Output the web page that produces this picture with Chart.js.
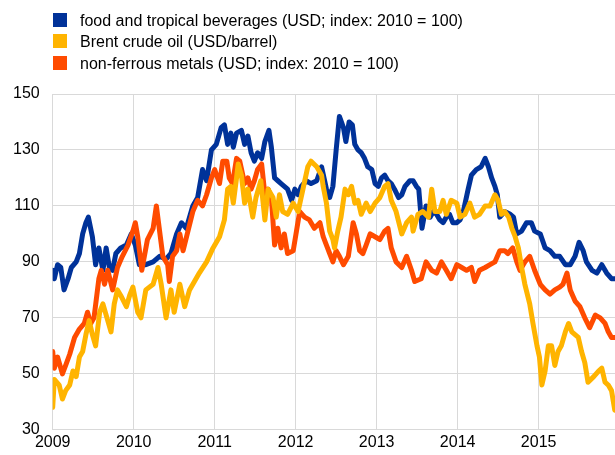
<!DOCTYPE html>
<html>
<head>
<meta charset="utf-8">
<script src="https://cdn.jsdelivr.net/npm/chart.js@4/dist/chart.umd.min.js"></script>
<style>
	html, body { margin: 0; padding: 0; background: #fff; }
	#wrap { position: relative; width: 615px; height: 455px; }
	#chart { position: absolute; left: 0; top: 0; }
	#legend { position: absolute; left: 0; top: 0; font-family: "Liberation Sans", Arial, sans-serif; font-size: 16px; color: #000; }
	.item { position: absolute; left: 53px; height: 14px; white-space: nowrap; }
	.box { position: absolute; left: 0; top: 0; width: 14px; height: 14px; }
	.txt { position: absolute; left: 27px; top: 1px; line-height: 14px; }
</style>
</head>
<body>
<div id="wrap">
	<canvas id="chart" width="615" height="455"></canvas>
	<div id="legend"></div>
</div>
<script>
const yearTicks = [2009, 2010, 2011, 2012, 2013, 2014, 2015];

// food and tropical beverages, index
const foodYears = [
	2009.00, 2009.02, 2009.06, 2009.10, 2009.14, 2009.19, 2009.23, 2009.29, 2009.33, 2009.37, 2009.41, 2009.44, 2009.49, 2009.53, 2009.57, 2009.62, 2009.66, 2009.70, 2009.74, 2009.78, 2009.84, 2009.91, 2009.97,
	2010.02, 2010.07, 2010.15, 2010.24, 2010.32, 2010.40, 2010.46, 2010.53, 2010.59, 2010.65, 2010.73, 2010.79, 2010.85, 2010.90, 2010.96,
	2011.02, 2011.08, 2011.12, 2011.16, 2011.20, 2011.23, 2011.27, 2011.33, 2011.37, 2011.41, 2011.45, 2011.49, 2011.53, 2011.58, 2011.62, 2011.67, 2011.70, 2011.74, 2011.78, 2011.82, 2011.86, 2011.90, 2011.95, 2011.99,
	2012.03, 2012.07, 2012.13, 2012.19, 2012.26, 2012.32, 2012.38, 2012.42, 2012.46, 2012.50, 2012.54, 2012.59, 2012.62, 2012.66, 2012.70, 2012.73, 2012.77, 2012.81, 2012.85, 2012.89, 2012.94, 2012.98,
	2013.02, 2013.06, 2013.10, 2013.14, 2013.18, 2013.22, 2013.27, 2013.31, 2013.35, 2013.41, 2013.45, 2013.49, 2013.52, 2013.56, 2013.61, 2013.66, 2013.70, 2013.74, 2013.78, 2013.82, 2013.86, 2013.90, 2013.94, 2013.99,
	2014.03, 2014.07, 2014.13, 2014.17, 2014.23, 2014.29, 2014.34, 2014.38, 2014.42, 2014.46, 2014.49, 2014.52, 2014.58, 2014.65, 2014.69, 2014.73, 2014.79, 2014.85, 2014.91, 2014.95,
	2015.02, 2015.08, 2015.14, 2015.20, 2015.26, 2015.33, 2015.39, 2015.45, 2015.50, 2015.55, 2015.59, 2015.66, 2015.72, 2015.78, 2015.84, 2015.90, 2015.94,
];
const foodValues = [
	87, 84, 89, 88, 80, 84, 88, 90, 93, 100, 104, 106, 99, 89, 95, 87, 95, 88, 87, 93, 95, 96, 100,
	96, 89, 89, 90, 92, 91, 93, 100, 104, 102, 110, 113, 123, 119, 130,
	132, 138, 139, 132, 136, 131, 136, 137, 132, 135, 129, 126, 129, 127, 133, 137, 131, 120, 119, 118, 117, 116, 112, 116,
	114, 117, 119, 118, 119, 124, 116, 113, 117, 130, 142, 138, 133, 140, 139, 132, 130, 129, 127, 124, 123, 118,
	117, 120, 121, 119, 118, 116, 113, 114, 117, 119, 119, 117, 116, 102, 110, 106, 108, 107, 105, 104, 106, 107, 104, 104,
	105, 108, 116, 121, 123, 124, 127, 124, 120, 117, 114, 106, 108, 107, 106, 100, 101, 104, 104, 101,
	100, 95, 94, 92, 92, 89, 89, 92, 97, 94, 90, 87, 86, 89, 86, 84, 84,
];

// Brent crude oil, USD per barrel
const oilYears = [
	2009.00, 2009.02, 2009.08, 2009.12, 2009.16, 2009.21, 2009.25, 2009.29, 2009.33, 2009.37, 2009.41, 2009.45, 2009.49, 2009.53, 2009.58, 2009.62, 2009.68, 2009.72, 2009.76, 2009.80, 2009.84, 2009.91, 2009.95, 2009.99,
	2010.05, 2010.09, 2010.15, 2010.24, 2010.30, 2010.34, 2010.40, 2010.46, 2010.50, 2010.57, 2010.63, 2010.69, 2010.75, 2010.81, 2010.90, 2010.98,
	2011.06, 2011.12, 2011.16, 2011.20, 2011.23, 2011.27, 2011.29, 2011.33, 2011.37, 2011.41, 2011.47, 2011.51, 2011.57, 2011.62, 2011.66, 2011.72, 2011.76, 2011.80, 2011.84, 2011.90, 2011.97,
	2012.03, 2012.09, 2012.15, 2012.19, 2012.26, 2012.32, 2012.34, 2012.38, 2012.42, 2012.46, 2012.48, 2012.52, 2012.56, 2012.61, 2012.65, 2012.69, 2012.73, 2012.77, 2012.81, 2012.87, 2012.92, 2012.98,
	2013.04, 2013.10, 2013.14, 2013.18, 2013.24, 2013.31, 2013.37, 2013.43, 2013.45, 2013.51, 2013.57, 2013.64, 2013.68, 2013.72, 2013.78, 2013.82, 2013.86, 2013.92, 2013.99,
	2014.03, 2014.09, 2014.15, 2014.21, 2014.27, 2014.34, 2014.40, 2014.46, 2014.50, 2014.54, 2014.58, 2014.63, 2014.67, 2014.71, 2014.75, 2014.79, 2014.83, 2014.89, 2014.93, 2014.98,
	2015.01, 2015.04, 2015.08, 2015.12, 2015.16, 2015.20, 2015.24, 2015.28, 2015.33, 2015.37, 2015.41, 2015.45, 2015.49, 2015.53, 2015.57, 2015.61, 2015.68, 2015.74, 2015.78, 2015.82, 2015.86, 2015.90, 2015.94,
];
const oilValues = [
	38, 48, 46, 41, 44, 46, 51, 49, 56, 58, 64, 69, 64, 60, 72, 75, 69, 65, 75, 80, 78, 74, 78, 81,
	72, 70, 80, 82, 88, 82, 70, 80, 72, 82, 74, 80, 83, 86, 90, 95,
	99, 105, 116, 117, 111, 120, 125, 121, 111, 116, 106, 113, 119, 105, 116, 113, 106, 114, 108, 107, 111,
	108, 116, 124, 126, 124, 121, 117, 111, 101, 98, 95, 101, 106, 116, 114, 117, 111, 112, 107, 111, 108, 111,
	113, 117, 118, 112, 108, 100, 104, 106, 101, 107, 108, 106, 116, 108, 108, 112, 107, 112, 111,
	106, 107, 111, 106, 107, 110, 110, 114, 112, 107, 108, 106, 102, 99, 95, 88, 82, 75, 68, 60,
	56, 46, 51, 60, 60, 53, 58, 60, 65, 68, 65, 64, 63, 58, 54, 47, 49, 51, 52, 47, 46, 44, 37,
];

// non-ferrous metals, index
const metalYears = [
	2009.00, 2009.02, 2009.06, 2009.12, 2009.16, 2009.21, 2009.27, 2009.33, 2009.39, 2009.43, 2009.47, 2009.51, 2009.57, 2009.60, 2009.64, 2009.68, 2009.74, 2009.80, 2009.86, 2009.93, 2009.99,
	2010.02, 2010.05, 2010.10, 2010.17, 2010.24, 2010.28, 2010.32, 2010.36, 2010.42, 2010.44, 2010.48, 2010.53, 2010.57, 2010.61, 2010.67, 2010.73, 2010.79, 2010.85, 2010.90, 2010.96,
	2011.00, 2011.06, 2011.10, 2011.15, 2011.18, 2011.22, 2011.27, 2011.31, 2011.37, 2011.41, 2011.45, 2011.49, 2011.53, 2011.58, 2011.62, 2011.66, 2011.70, 2011.74, 2011.78, 2011.82, 2011.86, 2011.90, 2011.97,
	2012.01, 2012.05, 2012.11, 2012.17, 2012.23, 2012.30, 2012.34, 2012.38, 2012.42, 2012.46, 2012.50, 2012.54, 2012.59, 2012.65, 2012.71, 2012.75, 2012.79, 2012.83, 2012.87, 2012.92, 2012.98,
	2013.04, 2013.10, 2013.14, 2013.18, 2013.24, 2013.31, 2013.37, 2013.43, 2013.47, 2013.55, 2013.61, 2013.68, 2013.74, 2013.80, 2013.86, 2013.92, 2013.99,
	2014.05, 2014.11, 2014.17, 2014.21, 2014.27, 2014.34, 2014.40, 2014.46, 2014.52, 2014.58, 2014.62, 2014.68, 2014.73, 2014.77, 2014.83, 2014.89, 2014.95,
	2015.02, 2015.08, 2015.14, 2015.20, 2015.26, 2015.30, 2015.35, 2015.39, 2015.45, 2015.51, 2015.57, 2015.63, 2015.70, 2015.76, 2015.82, 2015.86, 2015.90, 2015.94,
];
const metalValues = [
	58, 52, 56, 50, 53, 57, 63, 66, 68, 72, 68, 70, 84, 87, 82, 87, 80, 88, 92, 96, 101,
	104, 99, 87, 98, 102, 110, 101, 92, 89, 83, 92, 94, 100, 94, 101, 108, 112, 110, 114, 120,
	123, 118, 126, 126, 120, 118, 127, 126, 118, 120, 116, 119, 123, 125, 114, 116, 113, 96, 102, 95, 100, 93, 94,
	101, 108, 106, 105, 102, 104, 99, 96, 93, 90, 94, 92, 89, 92, 104, 100, 94, 93, 96, 100, 99,
	98, 101, 102, 95, 90, 88, 92, 87, 83, 84, 90, 87, 86, 90, 87, 84, 89,
	88, 87, 88, 83, 87, 88, 89, 90, 94, 94, 93, 95, 90, 87, 90, 92, 87,
	82, 80, 78.5, 80, 81, 82, 86, 80, 76, 74, 70, 66.5, 71, 70, 68, 65, 63, 63,
];

const seriesLabels = [
	"food and tropical beverages (USD; index: 2010 = 100)",
	"Brent crude oil (USD/barrel)",
	"non-ferrous metals (USD; index: 2010 = 100)",
];
const seriesColors = ["#003299", "#ffb400", "#ff4b00"];

function toPoints(xs, ys) {
	return xs.map((x, i) => ({ x: x, y: ys[i] }));
}

const fontFamily = '"Liberation Sans", Arial, sans-serif';

const datasets = [
	{ label: seriesLabels[0], data: toPoints(foodYears, foodValues), borderColor: seriesColors[0], order: 2 },
	{ label: seriesLabels[1], data: toPoints(oilYears, oilValues), borderColor: seriesColors[1], order: 0 },
	{ label: seriesLabels[2], data: toPoints(metalYears, metalValues), borderColor: seriesColors[2], order: 1 },
].map((ds) => ({
	...ds,
	borderWidth: 5,
	pointRadius: 0,
	tension: 0,
	borderJoinStyle: "round",
	borderCapStyle: "round",
	fill: false,
}));

// legend as plain html, one entry per row
const legend = document.getElementById("legend");
seriesLabels.forEach((label, i) => {
	const row = document.createElement("div");
	row.className = "item";
	row.style.top = 13 + i * 21.3 + "px";
	row.innerHTML = '<span class="box" style="background:' + seriesColors[i] + '"></span><span class="txt"></span>';
	row.querySelector(".txt").textContent = label;
	legend.appendChild(row);
});

const gridColor = "#d9d9d9";

new Chart(document.getElementById("chart"), {
	type: "line",
	data: { datasets: datasets },
	options: {
		responsive: false,
		animation: false,
		layout: { padding: { top: 94, left: 0, right: 0, bottom: 0 } },
		plugins: {
			legend: { display: false },
			tooltip: { enabled: false },
		},
		scales: {
			x: {
				type: "linear",
				min: 2009,
				max: 2015.943,
				afterBuildTicks: (axis) => {
					axis.ticks = yearTicks.map((v) => ({ value: v }));
				},
				ticks: {
					color: "#000",
					font: { family: fontFamily, size: 16 },
					padding: 3,
					maxRotation: 0,
					callback: (value) => String(value),
				},
				grid: { color: gridColor, drawTicks: false },
				border: { color: gridColor },
			},
			y: {
				min: 30,
				max: 150,
				ticks: {
					stepSize: 20,
					color: "#000",
					font: { family: fontFamily, size: 16 },
					padding: 13,
				},
				grid: { color: gridColor, drawTicks: false },
				border: { color: gridColor },
			},
		},
	},
});
</script>
</body>
</html>
